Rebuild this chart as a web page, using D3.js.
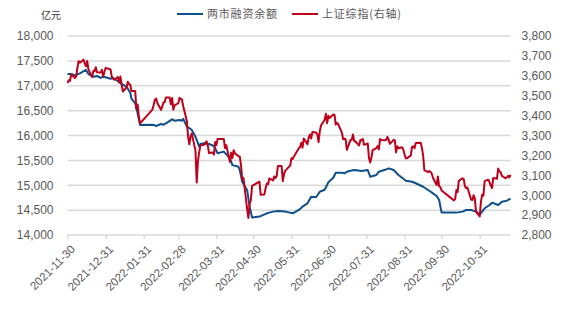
<!DOCTYPE html>
<html><head><meta charset="utf-8">
<script src="https://cdn.jsdelivr.net/npm/d3@7"></script>
<style>
html,body{margin:0;padding:0;background:#fff;}
svg{display:block;font-family:"Liberation Sans",Arial,sans-serif;}
</style></head>
<body><svg id="c" width="570" height="328"></svg>
<script>
// ---- data ----
const seriesNames = ["两市融资余额", "上证综指(右轴)"];
const unitLabel = "亿元";
const xTickLabels = ["2021-11-30","2021-12-31","2022-01-31","2022-02-28","2022-03-31","2022-04-30","2022-05-31","2022-06-30","2022-07-31","2022-08-31","2022-09-30","2022-10-31"];
const leftTicks = [14000,14500,15000,15500,16000,16500,17000,17500,18000];
const rightTicks = [2800,2900,3000,3100,3200,3300,3400,3500,3600,3700,3800];

// 两市融资余额 (亿元)
const marginDates = ["2021-11-30","2021-12-03","2021-12-06","2021-12-10","2021-12-15","2021-12-17","2021-12-21","2021-12-24","2021-12-27","2021-12-29","2021-12-31",
"2022-01-04","2022-01-06","2022-01-10","2022-01-12","2022-01-14","2022-01-17","2022-01-20","2022-01-21","2022-01-24","2022-01-26","2022-01-28",
"2022-02-07","2022-02-09","2022-02-10","2022-02-14","2022-02-16","2022-02-18","2022-02-23","2022-02-25",
"2022-03-01","2022-03-03","2022-03-04","2022-03-07","2022-03-09","2022-03-11","2022-03-14","2022-03-17","2022-03-18","2022-03-21","2022-03-25","2022-03-29",
"2022-04-01","2022-04-06","2022-04-11","2022-04-13","2022-04-18","2022-04-19","2022-04-21","2022-04-25","2022-04-27","2022-04-29",
"2022-05-05","2022-05-11","2022-05-13","2022-05-16","2022-05-20","2022-05-26",
"2022-06-01","2022-06-06","2022-06-09","2022-06-13","2022-06-16","2022-06-20","2022-06-23","2022-06-27","2022-06-30",
"2022-07-04","2022-07-06","2022-07-11","2022-07-13","2022-07-15","2022-07-18","2022-07-21","2022-07-27",
"2022-08-01","2022-08-03","2022-08-08","2022-08-10","2022-08-15","2022-08-18","2022-08-22","2022-08-26",
"2022-09-01","2022-09-06","2022-09-09","2022-09-15","2022-09-20","2022-09-23","2022-09-26","2022-09-28","2022-09-30",
"2022-10-12","2022-10-17","2022-10-20","2022-10-24","2022-10-28","2022-10-31",
"2022-11-04","2022-11-08","2022-11-10","2022-11-15","2022-11-18","2022-11-22","2022-11-25"];
const marginValues = [17236,17236,17210,17250,17317,17236,17182,17196,17156,17182,17170,
17142,17156,17090,17050,17021,16981,16860,16740,16647,16446,16211,
16215,16205,16190,16231,16217,16245,16325,16297,
16310,16297,16337,16177,16150,16110,15976,15777,15830,15844,15830,15790,
15642,15676,15540,15405,15372,15305,15070,14900,14570,14350,
14370,14436,14450,14470,14483,14470,
14436,14503,14570,14637,14770,14760,14870,14910,15060,
15150,15250,15250,15240,15270,15290,15306,15286,
15306,15172,15206,15272,15310,15340,15306,15206,
15090,15070,15040,14970,14890,14838,14784,14704,14450,
14450,14470,14503,14503,14470,14410,
14537,14603,14650,14603,14670,14690,14730];

// 上证综指
const sseDates = ["2021-11-30","2021-12-01","2021-12-02","2021-12-03","2021-12-06","2021-12-07","2021-12-08","2021-12-09","2021-12-10","2021-12-13","2021-12-14","2021-12-15","2021-12-16","2021-12-17","2021-12-20","2021-12-21","2021-12-22","2021-12-23","2021-12-24","2021-12-27","2021-12-28","2021-12-29","2021-12-30","2021-12-31",
"2022-01-04","2022-01-05","2022-01-06","2022-01-07","2022-01-10","2022-01-11","2022-01-12","2022-01-13","2022-01-14","2022-01-17","2022-01-18","2022-01-19","2022-01-20","2022-01-21","2022-01-24","2022-01-25","2022-01-26","2022-01-27","2022-01-28",
"2022-02-07","2022-02-08","2022-02-09","2022-02-10","2022-02-11","2022-02-14","2022-02-15","2022-02-16","2022-02-17","2022-02-18","2022-02-21","2022-02-22","2022-02-23","2022-02-24","2022-02-25","2022-02-28",
"2022-03-01","2022-03-02","2022-03-03","2022-03-04","2022-03-07","2022-03-08","2022-03-09","2022-03-10","2022-03-11","2022-03-14","2022-03-15","2022-03-16","2022-03-17","2022-03-18","2022-03-21","2022-03-22","2022-03-23","2022-03-24","2022-03-25","2022-03-28","2022-03-29","2022-03-30","2022-03-31",
"2022-04-01","2022-04-06","2022-04-07","2022-04-08","2022-04-11","2022-04-12","2022-04-13","2022-04-14","2022-04-15","2022-04-18","2022-04-19","2022-04-20","2022-04-21","2022-04-22","2022-04-25","2022-04-26","2022-04-27","2022-04-28","2022-04-29",
"2022-05-05","2022-05-06","2022-05-09","2022-05-10","2022-05-11","2022-05-12","2022-05-13","2022-05-16","2022-05-17","2022-05-18","2022-05-19","2022-05-20","2022-05-23","2022-05-24","2022-05-25","2022-05-26","2022-05-27","2022-05-30","2022-05-31",
"2022-06-01","2022-06-02","2022-06-06","2022-06-07","2022-06-08","2022-06-09","2022-06-10","2022-06-13","2022-06-14","2022-06-15","2022-06-16","2022-06-17","2022-06-20","2022-06-21","2022-06-22","2022-06-23","2022-06-24","2022-06-27","2022-06-28","2022-06-29","2022-06-30",
"2022-07-01","2022-07-04","2022-07-05","2022-07-06","2022-07-07","2022-07-08","2022-07-11","2022-07-12","2022-07-13","2022-07-14","2022-07-15","2022-07-18","2022-07-19","2022-07-20","2022-07-21","2022-07-22","2022-07-25","2022-07-26","2022-07-27","2022-07-28","2022-07-29",
"2022-08-01","2022-08-02","2022-08-03","2022-08-04","2022-08-05","2022-08-08","2022-08-09","2022-08-10","2022-08-11","2022-08-12","2022-08-15","2022-08-16","2022-08-17","2022-08-18","2022-08-19","2022-08-22","2022-08-23","2022-08-24","2022-08-25","2022-08-26","2022-08-29","2022-08-30","2022-08-31",
"2022-09-01","2022-09-02","2022-09-05","2022-09-06","2022-09-07","2022-09-08","2022-09-09","2022-09-13","2022-09-14","2022-09-15","2022-09-16","2022-09-19","2022-09-20","2022-09-21","2022-09-22","2022-09-23","2022-09-26","2022-09-27","2022-09-28","2022-09-29","2022-09-30",
"2022-10-10","2022-10-11","2022-10-12","2022-10-13","2022-10-14","2022-10-17","2022-10-18","2022-10-19","2022-10-20","2022-10-21","2022-10-24","2022-10-25","2022-10-26","2022-10-27","2022-10-28","2022-10-31",
"2022-11-01","2022-11-02","2022-11-03","2022-11-04","2022-11-07","2022-11-08","2022-11-09","2022-11-10","2022-11-11","2022-11-14","2022-11-15","2022-11-16","2022-11-17","2022-11-18","2022-11-21","2022-11-22","2022-11-23","2022-11-24","2022-11-25"];
const sseValues = [3564,3577,3574,3607,3589,3595,3638,3673,3666,3681,3662,3648,3675,3632,3594,3625,3623,3643,3618,3616,3630,3597,3619,3640,
3632,3595,3586,3580,3594,3567,3597,3555,3521,3542,3570,3558,3555,3523,3524,3433,3456,3394,3361,
3430,3453,3480,3486,3463,3429,3446,3466,3468,3491,3491,3457,3489,3430,3451,3462,
3489,3484,3481,3448,3373,3294,3256,3296,3310,3224,3064,3171,3215,3251,3254,3260,3271,3250,3212,3215,3204,3267,3252,
3283,3283,3237,3252,3167,3213,3187,3226,3211,3196,3194,3151,3080,3087,2929,2886,2958,2975,3047,
3068,3002,3004,3036,3059,3055,3084,3074,3094,3086,3097,3147,3147,3071,3107,3123,3130,3149,3186,
3182,3195,3236,3242,3264,3239,3285,3256,3289,3305,3285,3317,3315,3307,3267,3320,3350,3379,3409,3362,3399,
3388,3405,3404,3355,3364,3356,3314,3281,3284,3282,3228,3278,3279,3305,3272,3270,3250,3277,3276,3283,3253,
3260,3186,3164,3189,3227,3237,3247,3230,3282,3277,3276,3278,3293,3278,3258,3278,3276,3215,3246,3236,3241,3227,3202,
3185,3186,3200,3243,3246,3236,3262,3264,3238,3200,3126,3116,3122,3117,3109,3088,3051,3094,3045,3041,3024,
2974,2980,3026,3016,3072,3085,3081,3045,3035,3039,2978,2976,3000,2983,2916,2893,
2969,3003,2998,3071,3078,3064,3048,3036,3087,3083,3134,3120,3115,3097,3085,3089,3097,3089,3102];

// ---- chart ----
const parse = d3.timeParse("%Y-%m-%d");
const margin = marginDates.map((d,i)=>({date:parse(d), v:marginValues[i]}));
const sse = sseDates.map((d,i)=>({date:parse(d), v:sseValues[i]}));

const svg = d3.select("#c");
const X0 = 67.5, X1 = 510.5, Y0 = 235, Y1 = 36;
const x = d3.scaleTime().domain([parse("2021-11-30"), parse("2022-11-25")]).range([X0, X1]);
const yL = d3.scaleLinear().domain([14000,18000]).range([Y0, Y1]);
const yR = d3.scaleLinear().domain([2800,3800]).range([Y0, Y1]);
const grey = "#595959";
const fmt = d3.format(",");

// gridlines
svg.append("g").selectAll("line").data(leftTicks).join("line")
  .attr("x1", X0).attr("x2", X1)
  .attr("y1", d=>yL(d)).attr("y2", d=>yL(d))
  .attr("stroke", "#d9d9d9").attr("stroke-width", 1.5);

// left axis
const gl = svg.append("g").attr("transform", `translate(${X0},0)`)
  .call(d3.axisLeft(yL).tickValues(leftTicks).tickFormat(fmt).tickSize(0).tickPadding(14));
gl.select(".domain").remove();
gl.selectAll("text").attr("fill", grey).style("font-size","12px").style("font-family","'Liberation Sans',Arial,sans-serif");

// right axis
const gr = svg.append("g").attr("transform", `translate(${X1},0)`)
  .call(d3.axisRight(yR).tickValues(rightTicks).tickFormat(fmt).tickSize(0).tickPadding(11));
gr.select(".domain").remove();
gr.selectAll("text").attr("fill", grey).style("font-size","12px").style("font-family","'Liberation Sans',Arial,sans-serif");

// bottom axis
const xt = xTickLabels.map(parse);
const gb = svg.append("g").attr("transform", `translate(0,${Y0})`)
  .call(d3.axisBottom(x).tickValues(xt).tickFormat(d3.timeFormat("%Y-%m-%d")).tickSize(4).tickSizeOuter(0));
gb.select(".domain").remove();
gb.selectAll(".tick line").attr("stroke", "#d9d9d9").attr("stroke-width", 1.5);
gb.selectAll("text").attr("fill", grey).style("font-size","11.5px").style("font-family","'Liberation Sans',Arial,sans-serif")
  .attr("text-anchor","end").attr("y",0).attr("dy","0.35em")
  .attr("transform","translate(5,12) rotate(-45)");

// lines
const lineL = d3.line().x(d=>x(d.date)).y(d=>yL(d.v));
const lineR = d3.line().x(d=>x(d.date)).y(d=>yR(d.v));
const blue = "#0d4f8b", red = "#c0001a";
svg.append("path").datum(margin).attr("d", lineL).attr("fill","none").attr("stroke",blue).attr("stroke-width",2).attr("stroke-linejoin","round");
svg.append("path").datum(sse).attr("d", lineR).attr("fill","none").attr("stroke",red).attr("stroke-width",2).attr("stroke-linejoin","round");

// unit label
svg.append("text").attr("x", 41).attr("y", 19).text(unitLabel)
  .attr("fill","#404040").style("font-size","10px").style("font-family","'Noto Sans CJK SC',sans-serif");

// legend
const leg = [{name:seriesNames[0], c:blue, x:177}, {name:seriesNames[1], c:red, x:292}];
leg.forEach(l=>{
  svg.append("line").attr("x1",l.x).attr("x2",l.x+26).attr("y1",14).attr("y2",14).attr("stroke",l.c).attr("stroke-width",2);
  svg.append("text").attr("x", l.x+30).attr("y", 18).text(l.name)
    .attr("fill",grey).style("font-size","11px").style("letter-spacing","0.8px")
    .style("font-family","'Noto Sans CJK SC',sans-serif");
});
</script>
</body></html>
